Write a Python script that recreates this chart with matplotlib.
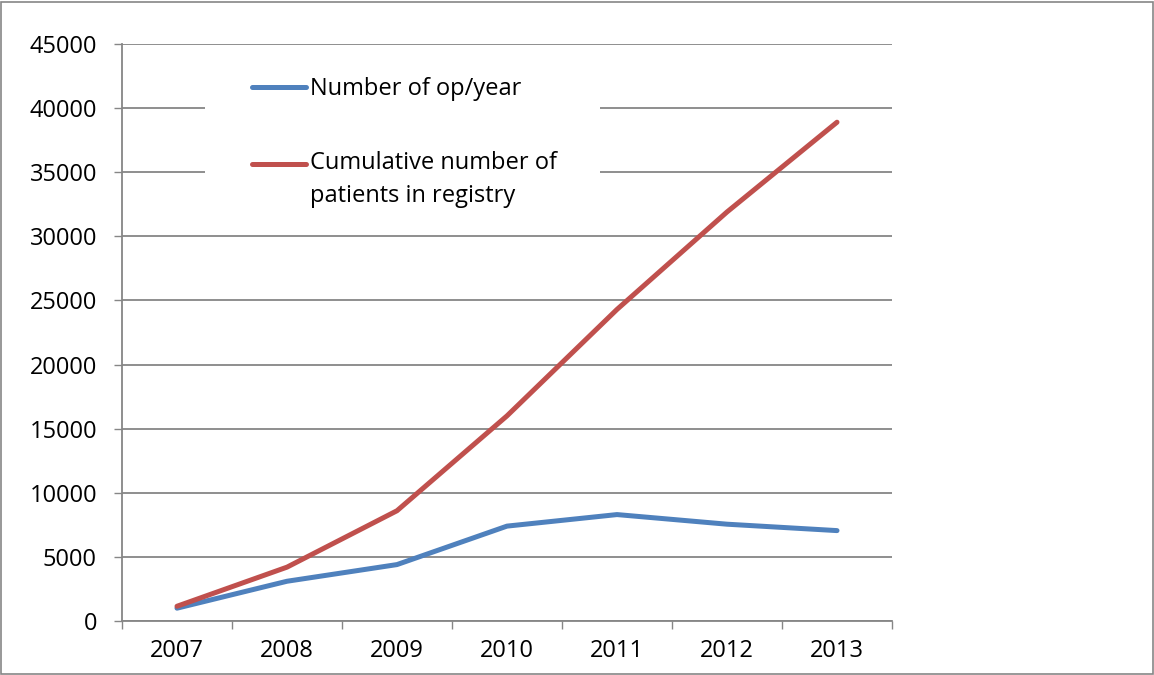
import matplotlib
matplotlib.use('Agg')
from matplotlib import pyplot as plt
from matplotlib.patches import Rectangle

years = ['2007', '2008', '2009', '2010', '2011', '2012', '2013']
ops_per_year = [1000, 3100, 4400, 7400, 8300, 7550, 7050]
cumulative = [1150, 4200, 8600, 16000, 24300, 31900, 38900]
y_ticks = [0, 5000, 10000, 15000, 20000, 25000, 30000, 35000, 40000, 45000]

plt.rcParams['font.family'] = ['Open Sans', 'DejaVu Sans']
fs = 17
grey = '#868686'

fig = plt.figure(figsize=(11.54, 6.75), dpi=100)
ax = fig.add_axes([122/1154, 54/675, 770/1154, 577/675])

x = list(range(len(years)))
ax.plot(x, ops_per_year, color='#4F81BD', lw=3.6, solid_capstyle='round',
        solid_joinstyle='round', label='Number of op/year', zorder=3)
ax.plot(x, cumulative, color='#C0504D', lw=3.6, solid_capstyle='round',
        solid_joinstyle='round', label='Cumulative number of\npatients in registry', zorder=3)

ax.set_xlim(-0.5, len(years) - 0.5)
ax.set_ylim(0, 45000)
ax.set_yticks(y_ticks)
ax.set_yticklabels([str(v) for v in y_ticks], fontsize=fs)
ax.set_xticks([i - 0.5 for i in range(len(years) + 1)])
ax.set_xticklabels([])
ax.set_xticks(x, minor=True)
ax.set_xticklabels(years, minor=True, fontsize=fs)
ax.tick_params(axis='x', which='major', direction='out', length=6, width=1, color=grey)
ax.tick_params(axis='x', which='minor', length=0, pad=13)
ax.tick_params(axis='y', direction='out', length=6, width=1, color=grey, pad=12)

ax.set_axisbelow(True)
ax.yaxis.grid(True, color=grey, lw=1.3)
for s in ['top', 'right']:
    ax.spines[s].set_visible(False)
for s in ['left', 'bottom']:
    ax.spines[s].set_color(grey)
    ax.spines[s].set_linewidth(1.3)

# white area behind the legend hides the gridlines
ax.add_patch(Rectangle((205/1154, 1 - 228/675), 395/1154, 170/675,
                       transform=fig.transFigure, facecolor='white',
                       edgecolor='none', zorder=1))

leg = ax.legend(loc='upper left', bbox_to_anchor=(240/1154, 1 - 65/675),
                bbox_transform=fig.transFigure, frameon=False, fontsize=fs,
                borderpad=0, handlelength=2.3, handletextpad=0.15,
                labelspacing=2.13)
leg.get_texts()[1].set_linespacing(1.5)
h = leg.legend_handles[1]
h.set_ydata([v + 12 for v in h.get_ydata()])

fig.patches.append(Rectangle((0.5/1154, 1/675), 1152/1154, 672/675,
                             transform=fig.transFigure, fill=False,
                             edgecolor=grey, lw=1.2))

plt.savefig('out.png', dpi=100)
